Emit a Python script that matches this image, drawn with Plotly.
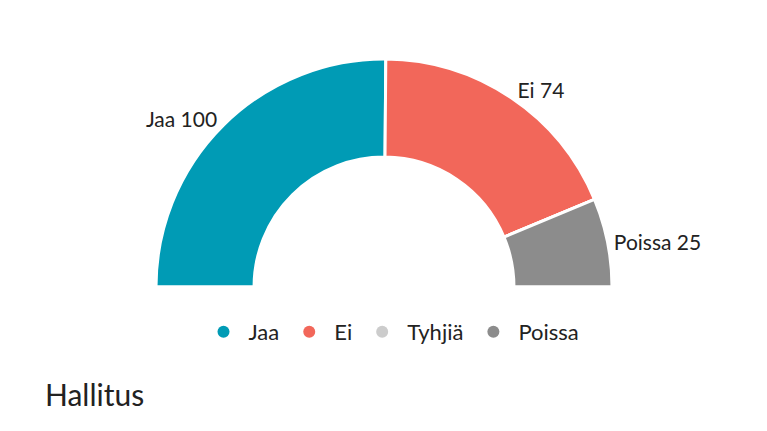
import plotly.graph_objects as go

labels = ["Jaa", "Ei", "Tyhjiä", "Poissa"]
values = [100, 74, 0, 25]
colors = ["#009bb5", "#f2675a", "#cccccc", "#8c8c8c"]

W, H = 767, 560
total = sum(values)

fig = go.Figure()
fig.add_trace(go.Pie(
    labels=labels + [""],
    values=values + [total],
    marker=dict(colors=colors + ["rgba(0,0,0,0)"], line=dict(color="white", width=3)),
    hole=0.57, sort=False, direction="clockwise", rotation=-90,
    texttemplate=["%{label} %{value}"] * 2 + [""] + ["%{label} %{value}"] + [""],
    textposition="outside", textfont=dict(size=21, color="#222"),
    hoverinfo="skip", showlegend=False,
    domain=dict(x=[148 / W, 604 / W], y=[1 - 507 / H, 1 - 51 / H]),
))
for lab, col in zip(labels, colors):
    fig.add_trace(go.Scatter(x=[None], y=[None], mode="markers", name=lab,
                             marker=dict(color=col, size=22, symbol="circle")))

fig.update_xaxes(visible=False)
fig.update_yaxes(visible=False)
fig.add_annotation(text="Hallitus", x=35 / W, y=1 - 386 / H, xref="paper", yref="paper",
                   xanchor="left", yanchor="middle", showarrow=False,
                   font=dict(size=30, color="#222"))
fig.update_layout(
    width=W, height=H, margin=dict(l=0, r=0, t=0, b=0),
    paper_bgcolor="white", plot_bgcolor="white",
    font=dict(family="Lato, Open Sans, sans-serif", color="#222"),
    legend=dict(orientation="h", x=0.5, xanchor="center", y=1 - 324 / H, yanchor="middle",
                font=dict(size=22), itemsizing="constant", itemwidth=40),
)
fig.write_html("out.html")
